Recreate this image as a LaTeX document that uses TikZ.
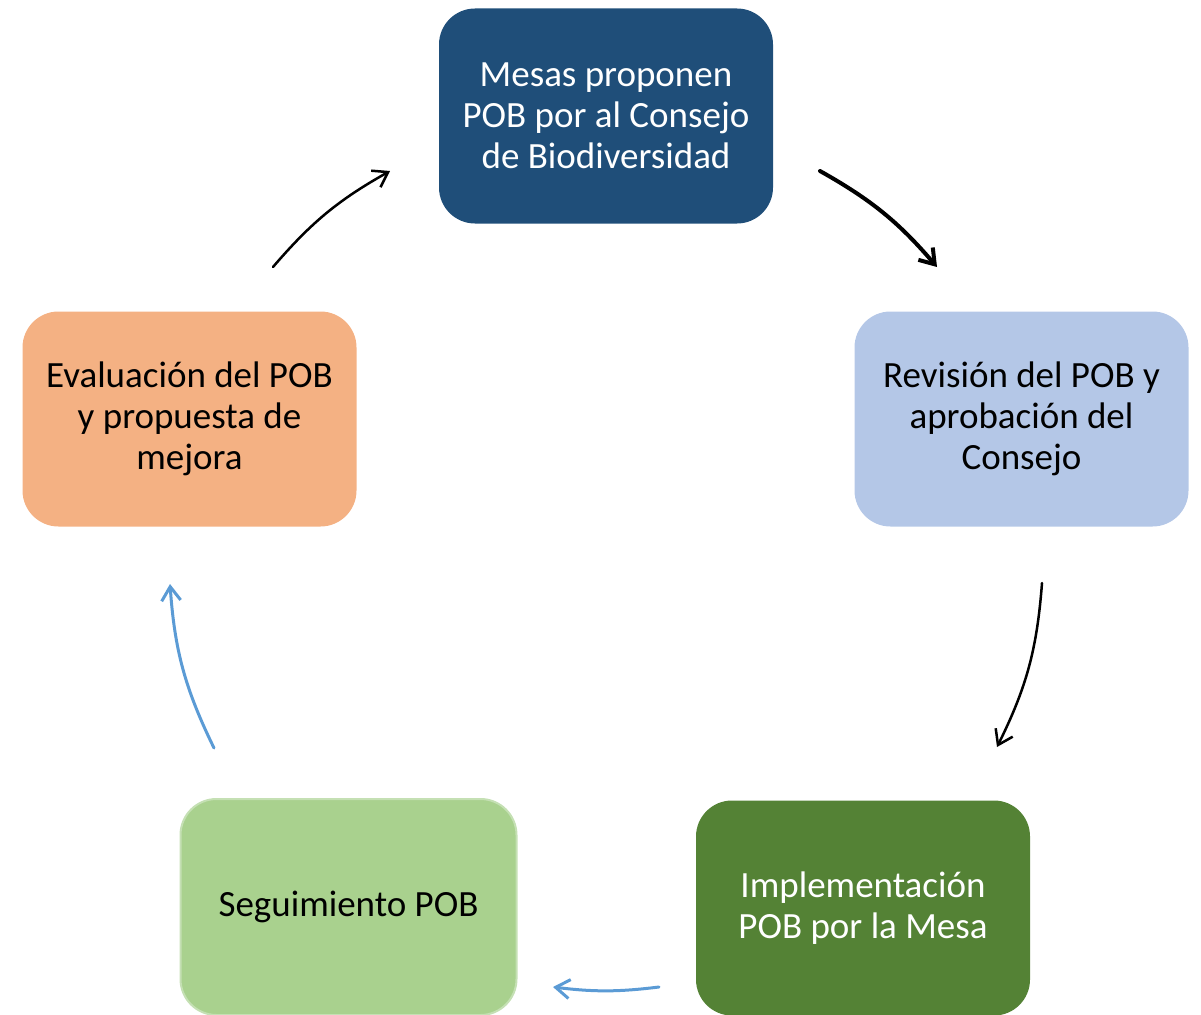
\documentclass[tikz,border=0pt]{standalone}
\usepackage{fontspec}
\setmainfont{Carlito}
\usetikzlibrary{arrows.meta}
\definecolor{cTop}{RGB}{31,78,121}
\definecolor{cRight}{RGB}{180,199,231}
\definecolor{cBR}{RGB}{84,130,53}
\definecolor{cBL}{RGB}{169,209,142}
\definecolor{cBLb}{RGB}{197,224,180}
\definecolor{cLeft}{RGB}{244,177,131}
\definecolor{cArrow}{RGB}{91,155,213}
\begin{document}
\begin{tikzpicture}[x=1pt,y=-1pt,
  box/.style={rounded corners=36pt, minimum width=334pt, minimum height=215pt,
    inner sep=0pt, align=center, font=\fontsize{37}{41}\selectfont},
  blk/.style={draw=black, line width=#1, line cap=round,
    -{Straight Barb[length=14pt,width=19pt]}},
  blu/.style={draw=cArrow, line width=3pt, line cap=round,
    -{Straight Barb[length=14pt,width=19pt]}}]
\useasboundingbox (0,0) rectangle (1201,1014);
\node[box, fill=cTop, text=white] (top) at (606,116) {Mesas proponen\\POB por al Consejo\\de Biodiversidad};
\node[box, fill=cRight] (right) at (1021.5,419) {Revisión del POB y\\aprobación del\\Consejo};
\node[box, fill=cBR, text=white] (br) at (863,908) {Implementación\\POB por la Mesa};
\node[box, fill=cBL, draw=cBLb, line width=2pt, minimum width=336pt, minimum height=216pt] (bl) at (348.5,907) {Seguimiento POB};
\node[box, fill=cLeft] (left) at (189.5,419) {Evaluación del POB\\y propuesta de\\mejora};
\coordinate (a1s) at (273,267);
\coordinate (a1e) at (390,171);
\coordinate (a2s) at (820,171);
\coordinate (a2e) at (937,267);
\coordinate (a3s) at (1042,583);
\coordinate (a3e) at (997,747);
\coordinate (a4s) at (659,987);
\coordinate (a4e) at (553,987);
\coordinate (a5s) at (214,748);
\coordinate (a5e) at (170,584);
\draw[blk=2.5pt] (a1s) to[bend left=10] (a1e);
\draw[blk=4pt] (a2s) to[bend left=10] (a2e);
\draw[blk=2.5pt] (a3s) to[bend left=11] (a3e);
\draw[blu] (a4s) to[bend left=7] (a4e);
\draw[blu] (a5s) to[bend left=11] (a5e);
\end{tikzpicture}
\end{document}
